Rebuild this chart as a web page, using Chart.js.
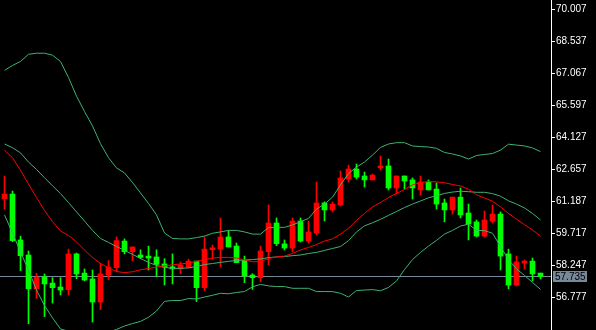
<!DOCTYPE html>
<html>
<head>
<meta charset="utf-8">
<script src="https://cdn.jsdelivr.net/npm/chart.js@4"></script>
<style>
  html, body { margin: 0; padding: 0; background: #000; }
  canvas { display: block; }
</style>
</head>
<body>
<canvas id="candleChart" width="596" height="330"></canvas>
<script>
/* Data (one entry per bar, oldest first) */
const opens = [61.31, 61.52, 59.41, 58.72, 57.17, 57.72, 57.43, 57.25, 57.13, 58.77,
  57.89, 57.62, 56.56, 57.80, 58.14, 59.36, 58.87, 58.72, 58.67, 58.63,
  58.31, 58.18, 58.08, 58.17, 58.44, 57.22, 58.96, 58.99, 59.55, 59.13,
  58.46, 57.80, 57.68, 58.87, 60.19, 59.23, 59.04, 60.28, 59.36, 59.73,
  61.11, 60.79, 61.02, 62.21, 62.67, 62.35, 62.17, 62.72, 62.81, 61.80,
  62.35, 62.17, 61.71, 62.07, 61.75, 61.11, 60.79, 61.38, 60.65, 60.24,
  59.59, 60.28, 60.60, 58.77, 57.34, 58.35, 58.44, 57.89];
const highs = [62.35, 61.66, 59.58, 58.90, 57.88, 57.85, 57.68, 57.68, 58.99, 58.81,
  58.08, 58.03, 58.35, 58.46, 59.55, 59.46, 59.09, 58.96, 59.13, 58.96,
  58.55, 58.77, 58.40, 58.53, 58.44, 59.55, 59.18, 60.42, 59.84, 59.27,
  58.67, 57.86, 59.13, 61.02, 60.42, 59.41, 60.42, 60.42, 60.28, 62.07,
  61.16, 61.16, 62.58, 62.85, 62.90, 62.53, 62.44, 63.27, 63.13, 62.35,
  62.35, 62.26, 62.35, 62.17, 62.03, 61.29, 61.38, 61.80, 61.06, 60.33,
  60.74, 61.02, 60.70, 58.99, 58.67, 58.49, 58.58, 57.89];
const lows = [60.83, 59.33, 58.00, 55.56, 56.73, 55.89, 56.51, 56.88, 56.88, 57.63,
  57.53, 55.64, 56.21, 57.59, 57.95, 58.77, 58.46, 58.55, 58.03, 57.72,
  57.34, 57.39, 57.86, 58.12, 56.58, 57.08, 58.53, 58.18, 59.09, 58.37,
  57.45, 57.14, 57.49, 58.27, 59.15, 58.95, 58.86, 59.32, 59.27, 59.64,
  60.28, 60.70, 60.97, 62.07, 62.21, 61.84, 62.17, 62.62, 61.71, 61.52,
  61.75, 61.29, 61.48, 61.71, 60.83, 60.24, 60.60, 60.42, 59.41, 59.55,
  59.55, 60.19, 58.03, 57.16, 57.30, 58.08, 57.53, 57.62];
const closes = [61.52, 59.38, 58.69, 57.17, 57.70, 57.39, 57.22, 57.11, 58.77, 57.85,
  57.57, 56.56, 57.85, 58.17, 59.38, 58.87, 59.09, 58.61, 58.58, 58.29,
  58.17, 58.08, 58.26, 58.44, 57.22, 58.99, 59.05, 59.55, 59.09, 58.37,
  57.76, 57.68, 58.90, 60.19, 59.24, 59.04, 60.28, 59.36, 59.78, 61.11,
  60.79, 61.06, 62.26, 62.67, 62.30, 62.17, 62.39, 62.81, 61.80, 62.35,
  62.12, 61.80, 62.07, 61.71, 61.06, 60.79, 61.38, 60.56, 60.14, 59.59,
  60.33, 60.60, 58.67, 57.34, 58.40, 58.44, 57.85, 57.735];

// Bollinger bands (green) and moving average (red)
const upperBand = [67.20, 67.43, 67.61, 67.94, 67.99, 67.99, 67.90, 67.61, 66.87, 66.02,
  65.31, 64.65, 63.83, 63.19, 62.72, 62.49, 62.05, 61.57, 61.09, 60.56,
  59.73, 59.48, 59.46, 59.46, 59.52, 59.59, 59.72, 59.78, 59.85, 59.85,
  59.78, 59.68, 59.68, 59.98, 59.99, 59.99, 60.10, 60.25, 60.40, 60.83,
  61.06, 61.38, 61.94, 62.46, 62.76, 62.99, 63.31, 63.66, 63.82, 63.88,
  63.88, 63.73, 63.70, 63.68, 63.62, 63.43, 63.36, 63.27, 63.13, 63.29,
  63.34, 63.38, 63.54, 63.81, 63.77, 63.73, 63.64, 63.47];
const middleBand = [63.82, 63.65, 63.41, 62.99, 62.65, 62.27, 61.90, 61.54, 61.13, 60.70,
  60.28, 59.85, 59.48, 59.30, 59.11, 58.93, 58.75, 58.56, 58.38, 58.24,
  58.16, 58.10, 58.11, 58.13, 58.19, 58.28, 58.33, 58.38, 58.43, 58.47,
  58.49, 58.51, 58.54, 58.60, 58.63, 58.65, 58.69, 58.72, 58.79, 58.84,
  58.93, 59.02, 59.11, 59.38, 59.78, 60.06, 60.20, 60.36, 60.54, 60.72,
  60.90, 61.06, 61.20, 61.35, 61.44, 61.55, 61.61, 61.65, 61.63, 61.60,
  61.60, 61.54, 61.42, 61.21, 61.06, 60.88, 60.63, 60.33];
const lowerBand = [60.56, 59.73, 58.86, 58.03, 57.11, 56.40, 55.83, 55.32, 55.22, 55.12,
  55.05, 55.02, 55.08, 55.18, 55.30, 55.46, 55.57, 55.67, 55.86, 56.15,
  56.59, 56.63, 56.63, 56.72, 56.70, 56.79, 56.87, 56.96, 56.94, 57.00,
  57.04, 57.26, 57.37, 57.30, 57.27, 57.27, 57.19, 57.19, 57.19, 57.04,
  57.04, 57.04, 56.96, 56.79, 57.09, 57.11, 57.13, 57.08, 57.23, 57.53,
  58.05, 58.51, 58.84, 59.13, 59.39, 59.68, 59.85, 60.05, 60.14, 59.85,
  59.84, 59.72, 59.11, 58.51, 58.08, 57.78, 57.46, 57.14];
const maLine = [63.53, 63.19, 62.61, 61.98, 61.36, 60.77, 60.25, 59.82, 59.62, 59.32,
  58.95, 58.60, 58.33, 58.13, 57.96, 57.91, 57.95, 58.04, 58.10, 58.16,
  58.22, 58.27, 58.31, 58.35, 58.43, 58.51, 58.58, 58.61, 58.61, 58.58,
  58.50, 58.41, 58.42, 58.56, 58.63, 58.67, 58.79, 58.95, 59.07, 59.20,
  59.36, 59.46, 59.68, 59.95, 60.31, 60.63, 60.93, 61.13, 61.36, 61.55,
  61.73, 61.94, 62.05, 62.09, 62.08, 62.04, 61.96, 61.89, 61.74, 61.49,
  61.34, 61.19, 60.93, 60.63, 60.37, 60.11, 59.87, 59.59];

// Price axis
const yTicks = [56.777, 58.247, 59.717, 61.187, 62.657, 64.127, 65.597, 67.067, 68.537, 70.007];
const yMin = 55.275;
const yMax = 70.434;
const lastPrice = closes[closes.length - 1];

/* Colors */
const upColor = '#ff0000';
const downColor = '#00ff00';
const bandColor = '#3cb371';
const maColor = '#ff0000';
const priceLineColor = '#778899';
const axisFont = { family: 'Liberation Sans', size: 10 };

// Build datasets
const candleColors = opens.map((o, i) => closes[i] > o ? upColor : downColor);
const wickData = opens.map((o, i) => ({ x: i, y: [lows[i], highs[i]] }));
const bodyData = opens.map((o, i) => ({ x: i, y: [o, closes[i]] }));
const toPoints = arr => arr.map((v, i) => ({ x: i, y: v }));

function lineSet(label, values, color, order) {
  return {
    type: 'line',
    label: label,
    data: toPoints(values),
    borderColor: color,
    borderWidth: 1,
    pointRadius: 0,
    tension: 0,
    fill: false,
    order: order
  };
}

// last price line + label on the axis
const lastPricePlugin = {
  id: 'lastPrice',
  beforeDatasetsDraw(chart) {
    const ctx = chart.ctx;
    const area = chart.chartArea;
    const py = Math.round(chart.scales.y.getPixelForValue(lastPrice)) + 0.5;
    ctx.save();
    ctx.strokeStyle = priceLineColor;
    ctx.lineWidth = 1;
    ctx.beginPath();
    ctx.moveTo(area.left, py);
    ctx.lineTo(area.right, py);
    ctx.stroke();
    ctx.restore();
  },
  afterDraw(chart) {
    const ctx = chart.ctx;
    const scale = chart.scales.y;
    const py = Math.round(scale.getPixelForValue(lastPrice));
    ctx.save();
    ctx.fillStyle = priceLineColor;
    ctx.fillRect(scale.left + 2, py - 5, 34, 11);
    ctx.fillStyle = '#000';
    ctx.font = axisFont.size + 'px "' + axisFont.family + '"';
    ctx.textBaseline = 'middle';
    ctx.fillText(lastPrice.toFixed(3), scale.left + 4, py + 1);
    ctx.restore();
  }
};

const ctxCandles = document.getElementById('candleChart').getContext('2d');

const candleChart = new Chart(ctxCandles, {
  type: 'bar',
  data: {
    datasets: [
      lineSet('Upper', upperBand, bandColor, 1),
      lineSet('Middle', middleBand, bandColor, 1),
      lineSet('Lower', lowerBand, bandColor, 1),
      lineSet('MA', maLine, maColor, 0),
      {
        label: 'Body',
        data: bodyData,
        backgroundColor: candleColors,
        barThickness: 5,
        minBarLength: 1,
        grouped: false,
        order: 2
      },
      {
        label: 'Wick',
        data: wickData,
        backgroundColor: candleColors,
        barThickness: 1,
        grouped: false,
        order: 3
      }
    ]
  },
  options: {
    responsive: false,
    devicePixelRatio: 1,
    animation: false,
    layout: { padding: 0 },
    plugins: {
      legend: { display: false },
      tooltip: { enabled: false }
    },
    scales: {
      x: {
        type: 'linear',
        display: false,
        min: -0.5625,
        max: 68.3125,
        offset: false
      },
      y: {
        type: 'linear',
        position: 'right',
        min: yMin,
        max: yMax,
        afterBuildTicks: scale => {
          scale.ticks = yTicks.map(v => ({ value: v }));
        },
        afterFit: scale => {
          scale.width = 45;
          scale.paddingTop = 0;
          scale.paddingBottom = 0;
        },
        border: { display: true, color: '#ffffff', width: 1 },
        grid: {
          display: true,
          drawOnChartArea: false,
          drawTicks: true,
          tickLength: 4,
          color: '#ffffff'
        },
        ticks: {
          color: '#ffffff',
          font: axisFont,
          padding: 1,
          callback: v => v.toFixed(3)
        }
      }
    }
  },
  plugins: [lastPricePlugin]
});
</script>
</body>
</html>
